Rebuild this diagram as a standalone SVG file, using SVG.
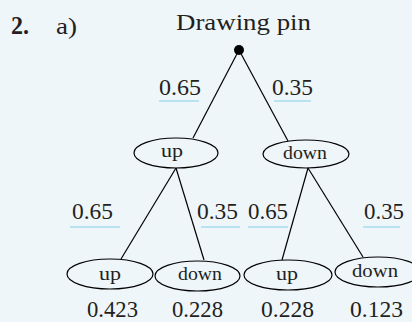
<svg xmlns="http://www.w3.org/2000/svg" width="412" height="322" viewBox="0 0 412 322">
  <style>
    text { font-family: "Liberation Serif", "Times New Roman", serif; fill: #231f20; }
    .num { font-size: 24px; }
    .lbl { font-size: 19px; text-anchor: middle; }
    .edge { stroke: #000; stroke-width: 1.2; fill: none; }
    .node ellipse { fill: none; stroke: #000; stroke-width: 1.2; }
    .ul { stroke: #a9dcef; stroke-width: 1.5; }
  </style>
  <rect width="412" height="322" fill="#eef6fa"/>

  <!-- heading -->
  <text x="11" y="34" font-size="25" font-weight="bold" textLength="18" lengthAdjust="spacingAndGlyphs">2.</text>
  <text x="56" y="34" font-size="24" textLength="21" lengthAdjust="spacingAndGlyphs">a)</text>
  <text x="176" y="30" font-size="24" textLength="135" lengthAdjust="spacingAndGlyphs">Drawing pin</text>

  <!-- connectors -->
  <g id="edges">
    <line class="edge" x1="239" y1="50" x2="193" y2="138"/>
    <line class="edge" x1="239" y1="50" x2="288" y2="141"/>
    <line class="edge" x1="176" y1="168" x2="121" y2="259"/>
    <line class="edge" x1="176" y1="168" x2="204" y2="260"/>
    <line class="edge" x1="308" y1="168" x2="282" y2="260"/>
    <line class="edge" x1="308" y1="168" x2="363" y2="257"/>
  </g>

  <!-- branch probabilities -->
  <g id="probs">
    <text class="num" x="159" y="95" textLength="42" lengthAdjust="spacingAndGlyphs">0.65</text>
    <line class="ul" x1="159" y1="101" x2="199" y2="101"/>
    <text class="num" x="272" y="95" textLength="41" lengthAdjust="spacingAndGlyphs">0.35</text>
    <line class="ul" x1="274" y1="101" x2="311" y2="101"/>
    <text class="num" x="72" y="219" textLength="41" lengthAdjust="spacingAndGlyphs">0.65</text>
    <line class="ul" x1="70" y1="227" x2="120" y2="227"/>
    <text class="num" x="197" y="219" textLength="41" lengthAdjust="spacingAndGlyphs">0.35</text>
    <line class="ul" x1="201" y1="227" x2="240" y2="227"/>
    <text class="num" x="248" y="219" textLength="40" lengthAdjust="spacingAndGlyphs">0.65</text>
    <line class="ul" x1="248" y1="227" x2="288" y2="227"/>
    <text class="num" x="364" y="219" textLength="40" lengthAdjust="spacingAndGlyphs">0.35</text>
    <line class="ul" x1="363" y1="227" x2="400" y2="227"/>
  </g>

  <!-- root -->
  <g id="root">
    <circle cx="239" cy="50" r="5" fill="#000"/>
  </g>

  <!-- first level -->
  <g id="n-up" class="node">
    <ellipse cx="176" cy="153" rx="42" ry="15"/>
    <text class="lbl" x="172" y="157" textLength="22" lengthAdjust="spacingAndGlyphs">up</text>
  </g>
  <g id="n-down" class="node">
    <ellipse cx="306" cy="154" rx="43" ry="14"/>
    <text class="lbl" x="305" y="159" textLength="44" lengthAdjust="spacingAndGlyphs">down</text>
  </g>

  <!-- second level -->
  <g id="n-up-up" class="node">
    <ellipse cx="110" cy="274" rx="43" ry="15"/>
    <text class="lbl" x="110" y="280" textLength="22" lengthAdjust="spacingAndGlyphs">up</text>
  </g>
  <g id="n-up-down" class="node">
    <ellipse cx="197.5" cy="276" rx="42.5" ry="15"/>
    <text class="lbl" x="200" y="280" textLength="44" lengthAdjust="spacingAndGlyphs">down</text>
  </g>
  <g id="n-down-up" class="node">
    <ellipse cx="288" cy="275" rx="44" ry="15"/>
    <text class="lbl" x="287" y="280" textLength="22" lengthAdjust="spacingAndGlyphs">up</text>
  </g>
  <g id="n-down-down" class="node">
    <ellipse cx="378" cy="272" rx="43" ry="15"/>
    <text class="lbl" x="375" y="277" textLength="46" lengthAdjust="spacingAndGlyphs">down</text>
  </g>

  <!-- outcome probabilities -->
  <g id="results">
    <text class="num" x="87" y="317" textLength="51" lengthAdjust="spacingAndGlyphs">0.423</text>
    <text class="num" x="172" y="317" textLength="51" lengthAdjust="spacingAndGlyphs">0.228</text>
    <text class="num" x="261" y="317" textLength="53" lengthAdjust="spacingAndGlyphs">0.228</text>
    <text class="num" x="350" y="317" textLength="53" lengthAdjust="spacingAndGlyphs">0.123</text>
  </g>
</svg>
